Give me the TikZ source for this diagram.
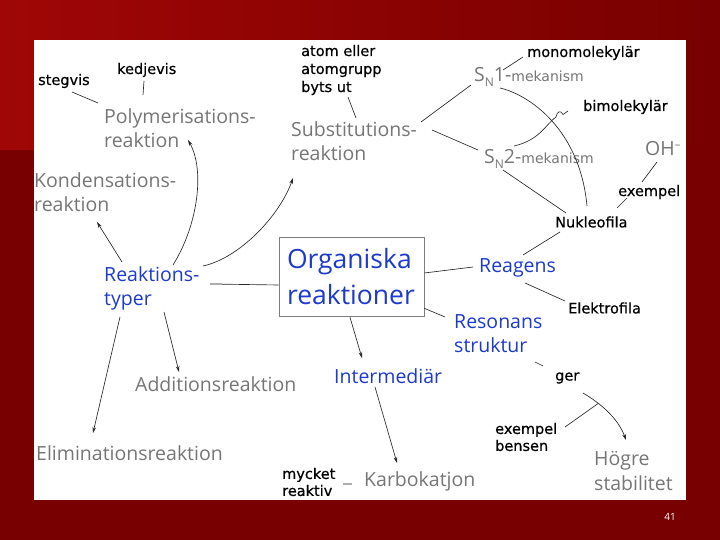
\documentclass[tikz,border=0pt]{standalone}
\usepackage{fontspec}
\setmainfont{Open Sans}
\newfontfamily\notefont[FakeBold=0.6]{DejaVu Sans}
\newfontfamily\mechfont{DejaVu Sans}
\usetikzlibrary{arrows.meta}

\definecolor{slidered}{RGB}{120,0,0}
\definecolor{slidelight}{RGB}{160,6,6}
\definecolor{labgrey}{RGB}{118,118,118}
\definecolor{labblue}{RGB}{28,58,205}
\definecolor{linegrey}{RGB}{40,40,40}

\newcommand{\mech}[1]{S\raisebox{-5pt}{\fontsize{12}{12}\selectfont N}#1-{\mechfont\fontsize{14}{14}\selectfont mekanism}}

\begin{document}
\begin{tikzpicture}[x=1pt, y=-1pt, >={Stealth[length=6pt,width=3.6pt]},
    lbl/.style={inner sep=0pt, anchor=west, align=left},
    grey/.style={lbl, text=labgrey, font=\fontsize{19.5}{24}\selectfont},
    concept/.style={lbl, text=labblue, font=\fontsize{19.5}{24}\selectfont},
    note/.style={lbl, font=\notefont\fontsize{14.5}{17}\selectfont},
    conn/.style={draw=linegrey, line width=0.65pt}]
    % Slide background
    \fill[slidered] (0,0) rectangle (720,540);
    \shade[left color=slidelight, right color=slidered] (0,0) rectangle (720,150);
    \fill[white] (34,40) rectangle (686,500);
    \useasboundingbox (0,0) rectangle (720,540);

    % Centre
    \node[draw=linegrey!60, line width=0.6pt, fill=white, minimum width=145pt, minimum height=79pt,
        inner sep=0pt, text width=129pt, align=left, text=labblue,
        font=\fontsize{26.5}{36}\selectfont] (org) at (351.5,276.5) {Organiska\\reaktioner};

    % Reaction types
    \node[concept] (reakt) at (104,288) {Reaktions-\\typer};
    \node[grey] (poly) at (104,128) {Polymerisations-\\reaktion};
    \node[note] (stegvis) at (38,81) {stegvis};
    \node[note] (kedjevis) at (117,70) {kedjevis};
    \node[grey] (kond) at (34,192) {Kondensations-\\reaktion};
    \node[grey] (add) at (135,384) {Additionsreaktion};
    \node[grey] (elim) at (36,453) {Eliminationsreaktion};

    % Substitution
    \node[grey] (subst) at (291,141) {Substitutions-\\reaktion};
    \node[note, font=\notefont\fontsize{14.5}{18}\selectfont] (atom) at (301,70) {atom eller\\atomgrupp\\byts ut};
    \node[grey] (sn1) at (474,77) {\mech{1}};
    \node[grey] (sn2) at (484,159) {\mech{2}};
    \node[note] (mono) at (527,53) {monomolekylär};
    \node[note] (bimol) at (583,107) {bimolekylär};
    \node[grey] (oh) at (645,149) {OH\raisebox{7pt}{\fontsize{11}{11}\selectfont --}};
    \node[note] (exoh) at (618,192) {exempel};
    \node[note] (nukleo) at (555,222) {Nukleofila};

    % Reagens and resonance
    \node[concept] (reagens) at (479,268) {Reagens};
    \node[note] (elektro) at (568,308) {Elektrofila};
    \node[concept] (reson) at (454,333.5) {Resonans\\struktur};
    \node[note] (ger) at (555,378) {ger};
    \node[note] (bensen) at (495,437) {exempel\\bensen};
    \node[grey, font=\fontsize{19.5}{25}\selectfont] (hogre) at (594,470.5) {Högre\\stabilitet};

    % Intermediates
    \node[concept] (inter) at (334,376) {Intermediär};
    \node[grey] (karbo) at (364,481) {Karbokatjon};
    \node[note] (mycket) at (282,482) {mycket\\reaktiv};

    \node[text=white, font=\fontsize{10}{10}\selectfont] (pagenum) at (670,517) {41};

    % Connectors, left
    \draw[conn] ([shift={(34,11)}]stegvis.west) -- ([shift={(-6,-25)}]poly.west);
    \draw[conn] ([shift={(27,11)}]kedjevis.west) -- ([shift={(39,-33)}]poly.west);
    \draw[conn,->] ([shift={(18,-26)}]reakt.west) -- ([shift={(63,30)}]kond.west);
    \draw[conn,->] ([shift={(69,-23)}]reakt.west) .. controls (198,225) and (205,170) .. ([shift={(84,12)}]poly.west);
    \draw[conn,->] ([shift={(99,-22)}]reakt.west) .. controls (240,258) and (280,215) .. ([shift={(2,37)}]subst.west);
    \draw[conn,->] ([shift={(16,29)}]reakt.west) -- ([shift={(57,-20)}]elim.west);
    \draw[conn,->] ([shift={(60,24)}]reakt.west) -- ([shift={(44,-12)}]add.west);
    \draw[conn] ([shift={(106,-4)}]reakt.west) -- ([shift={(0,8.5)}]org.west);
    \draw[draw=labgrey!60, line width=1.6pt] ([shift={(106,-4)}]reakt.west) -- +(12,0);

    % Connectors, substitution
    \draw[conn] ([shift={(47,27)}]atom.west) -- ([shift={(65,-23)}]subst.west);
    \draw[conn] ([shift={(130,-19)}]subst.west) -- ([shift={(-3,8)}]sn1.west);
    \draw[conn] ([shift={(141,-11)}]subst.west) -- ([shift={(-6,-9)}]sn2.west);
    \draw[conn] ([shift={(-4,4)}]mono.west) -- ([shift={(29,-7)}]sn1.west);
    \draw[conn] ([shift={(26,11)}]sn1.west) .. controls (530,95) and (580,130) .. ([shift={(32,-16)}]nukleo.west);
    \draw[conn] ([shift={(-15,4)}]bimol.west) -- (563,114.5) .. controls (561,110) and (557,111) .. (556,117)
        .. controls (546,124) and (540,140) .. ([shift={(30,-13)}]sn2.west);
    \draw[conn] ([shift={(19,11)}]sn2.west) -- ([shift={(11,-9)}]nukleo.west);
    \draw[conn] ([shift={(12,13)}]oh.west) -- ([shift={(24,-10)}]exoh.west);
    \draw[conn] ([shift={(9,6)}]exoh.west) -- ([shift={(62,-14)}]nukleo.west);

    % Connectors, reagens and resonance
    \draw[conn] ([shift={(5,10)}]nukleo.west) -- ([shift={(44,-13)}]reagens.west);
    \draw[conn] ([shift={(0,-3.5)}]org.east) -- ([shift={(-6,-1)}]reagens.west);
    \draw[conn] ([shift={(46,15)}]reagens.west) -- ([shift={(-3,-7)}]elektro.west);
    \draw[conn] ([shift={(0,-8)}]org.south east) -- ([shift={(-9,-16.5)}]reson.west);
    \draw[conn] ([shift={(81,28.5)}]reson.west) -- ([shift={(-12,-12)}]ger.west);
    \draw[conn,->] ([shift={(28,15)}]ger.west) .. controls (600,403) and (618,418) .. ([shift={(32,-30.5)}]hogre.west)
        coordinate[pos=0.3] (hop);
    \draw[conn] ([shift={(70,-10)}]bensen.west) -- (hop);

    % Connectors, intermediates
    \draw[conn,->] ([shift={(-1.5,1)}]org.south) -- ([shift={(28,-18)}]inter.west);
    \draw[conn,->] ([shift={(41,11)}]inter.west) -- ([shift={(33,-18)}]karbo.west);
    \draw[draw=labgrey!60, line width=1.6pt] ([shift={(61,2)}]mycket.west) -- ([shift={(-12,3)}]karbo.west);
\end{tikzpicture}
\end{document}
